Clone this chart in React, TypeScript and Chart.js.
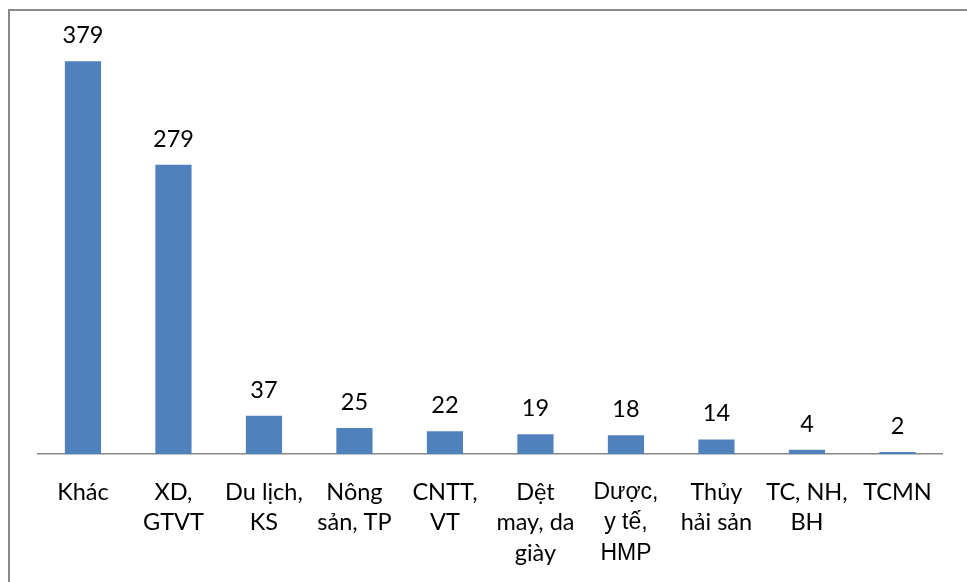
import React, { useEffect, useRef } from "react";
import { Chart, registerables } from "chart.js";

Chart.register(...registerables);

const categories: string[][] = [
  ["Khác"],
  ["XD,", "GTVT"],
  ["Du lịch,", "KS"],
  ["Nông", "sản, TP"],
  ["CNTT,", "VT"],
  ["Dệt", "may, da", "giày"],
  ["Dược,", "y tế,", "HMP"],
  ["Thủy", "hải sản"],
  ["TC, NH,", "BH"],
  ["TCMN"],
];
const values: number[] = [379, 279, 37, 25, 22, 19, 18, 14, 4, 2];
const yMax = 400;

const FONT = "Lato, 'Open Sans', sans-serif";

const valueLabels = {
  id: "valueLabels",
  afterDatasetsDraw(chart: any) {
    const ctx = chart.ctx;
    const meta = chart.getDatasetMeta(0);
    ctx.save();
    ctx.font = `23.5px ${FONT}`;
    ctx.fillStyle = "#000";
    ctx.textAlign = "center";
    ctx.textBaseline = "alphabetic";
    meta.data.forEach((bar: any, i: number) => {
      ctx.fillText(String(values[i]), bar.x, bar.y - 18);
    });
    ctx.restore();
  },
};

const frame = {
  id: "frame",
  afterDraw(chart: any) {
    const ctx = chart.ctx;
    ctx.save();
    ctx.strokeStyle = "#8a8a8a";
    ctx.lineWidth = 2;
    ctx.strokeRect(9, 10, 1200, 1200);
    ctx.restore();
  },
};

export default function App() {
  const ref = useRef<HTMLCanvasElement | null>(null);
  useEffect(() => {
    if (!ref.current) return;
    const chart = new Chart(ref.current, {
      type: "bar",
      data: {
        labels: categories,
        datasets: [
          {
            data: values,
            backgroundColor: "#4f81bd",
            borderWidth: 0,
            categoryPercentage: 1,
            barPercentage: 0.4,
          },
        ],
      },
      options: {
        animation: false,
        responsive: false,
        maintainAspectRatio: false,
        layout: { padding: { left: 37.7, right: 24.3, top: 39.4, bottom: 0 } },
        plugins: { legend: { display: false }, tooltip: { enabled: false } },
        scales: {
          y: { display: false, min: 0, max: yMax },
          x: {
            grid: { display: false },
            border: { display: true, color: "#868686", width: 1.5 },
            afterFit: (scale: any) => {
              scale.height = 128;
            },
            ticks: {
              color: "#000",
              padding: 15,
              maxRotation: 0,
              autoSkip: false,
              font: (c: any) =>
                c.index === 6
                  ? { family: "'Liberation Sans', Arial, sans-serif", size: 23, lineHeight: 1.33 }
                  : { family: FONT, size: 23.5, lineHeight: 1.3 },
            },
          },
        },
      },
      plugins: [valueLabels, frame],
    });
    return () => chart.destroy();
  }, []);
  return (
    <div style={{ position: "fixed", left: 0, top: 0, width: 967, height: 582, background: "#fff" }}>
      <canvas ref={ref} width={967} height={582} style={{ display: "block" }} />
    </div>
  );
}
